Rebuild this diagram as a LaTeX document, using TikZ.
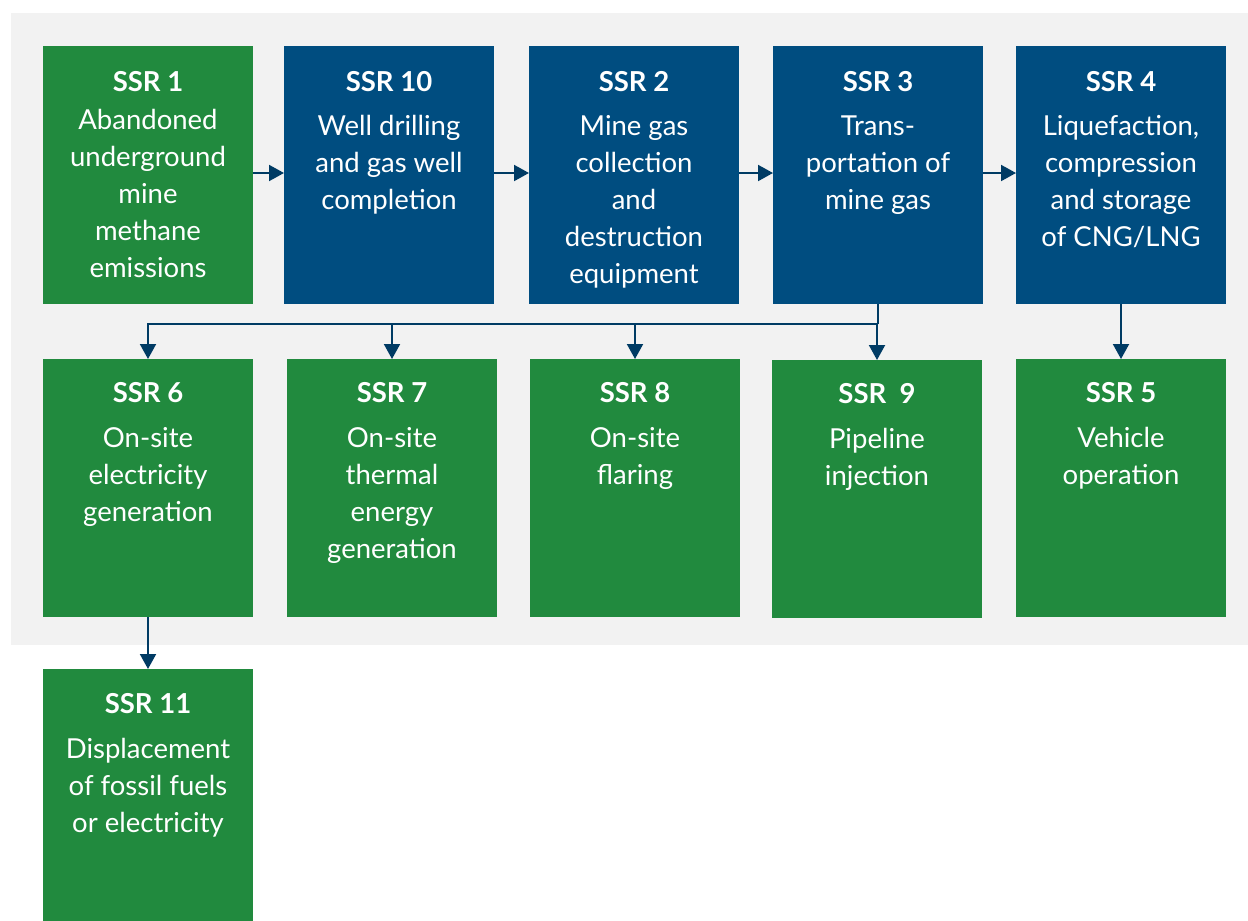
\documentclass[tikz,border=0pt]{standalone}
\usepackage{fontspec}
\setmainfont{Lato}
\usetikzlibrary{arrows.meta}
\definecolor{ssrgreen}{RGB}{33,138,62}
\definecolor{ssrblue}{RGB}{0,77,128}
\definecolor{arrowc}{RGB}{0,59,100}
\definecolor{bggray}{RGB}{242,242,242}
\begin{document}
\begin{tikzpicture}[x=1pt,y=-1pt,
 box/.style={minimum width=210pt, minimum height=258pt, inner sep=0pt, outer sep=0pt, anchor=north west},
 gbox/.style={box, fill=ssrgreen},
 bbox/.style={box, fill=ssrblue},
 lbl/.style={anchor=north, text=white, align=center, font=\fontsize{27.5}{37}\selectfont, inner sep=0pt},
 conn/.style={draw=arrowc, line width=2pt, -{Triangle[length=15pt,width=16pt]}}]
\useasboundingbox (0,0) rectangle (1248,921);
\fill[bggray] (11,13) rectangle (1248,645);
% row 1
\node[gbox] (b1) at (43,46) {};
\node[bbox] (b10) at (284,46) {};
\node[bbox] (b2) at (529,46) {};
\node[bbox] (b3) at (773,46) {};
\node[bbox] (b4) at (1016,46) {};
% row 2
\node[gbox] (b6) at (43,359) {};
\node[gbox] (b7) at (287,359) {};
\node[gbox] (b8) at (530,359) {};
\node[gbox] (b9) at (772,360) {};
\node[gbox] (b5) at (1016,359) {};
% row 3
\node[gbox, minimum height=262pt] (b11) at (43,669) {};
% labels
\node[lbl] (t1) at (b1.north |- 0,71) {\textbf{SSR 1}\\[1pt]Abandoned\\underground\\mine\\methane\\emissions};
\node[lbl] (t10) at (b10.north |- 0,71) {\textbf{SSR 10}\\[7pt]Well drilling\\and gas well\\completion};
\node[lbl] (t2) at (b2.north |- 0,71) {\textbf{SSR 2}\\[7pt]Mine gas\\collection\\and\\destruction\\equipment};
\node[lbl] (t3) at (b3.north |- 0,71) {\textbf{SSR 3}\\[7pt]Trans-\\portation of\\mine gas};
\node[lbl] (t4) at (b4.north |- 0,71) {\textbf{SSR 4}\\[7pt]Liquefaction,\\compression\\and storage\\of CNG/LNG};
\node[lbl] (t6) at (b6.north |- 0,382) {\textbf{SSR 6}\\[8pt]On-site\\electricity\\generation};
\node[lbl] (t7) at (b7.north |- 0,382) {\textbf{SSR 7}\\[8pt]On-site\\thermal\\energy\\generation};
\node[lbl] (t8) at (b8.north |- 0,382) {\textbf{SSR 8}\\[8pt]On-site\\flaring};
\node[lbl] (t9) at (b9.north |- 0,383) {\textbf{SSR\ \ 9}\\[8pt]Pipeline\\injection};
\node[lbl] (t5) at (b5.north |- 0,382) {\textbf{SSR 5}\\[8pt]Vehicle\\operation};
\node[lbl] (t11) at (b11.north |- 0,693) {\textbf{SSR 11}\\[8pt]Displacement\\of fossil fuels\\or electricity};
% connectors
\draw[conn] (b1.east |- 0,173) -- (b10.west |- 0,173);
\draw[conn] (b10.east |- 0,173) -- (b2.west |- 0,173);
\draw[conn] (b2.east |- 0,173) -- (b3.west |- 0,173);
\draw[conn] (b3.east |- 0,173) -- (b4.west |- 0,173);
\coordinate (split) at (b3.south |- 0,324);
\draw[draw=arrowc, line width=2pt] (b3.south) -- (split);
\draw[conn] (split) -| (b6.north);
\draw[conn] (split) -| (b7.north);
\draw[conn] (split) -| (b8.north);
\draw[conn] (split) -| (b9.north);
\draw[conn] (b4.south) -- (b5.north);
\draw[conn] (b6.south) -- (b11.north);
\end{tikzpicture}
\end{document}
